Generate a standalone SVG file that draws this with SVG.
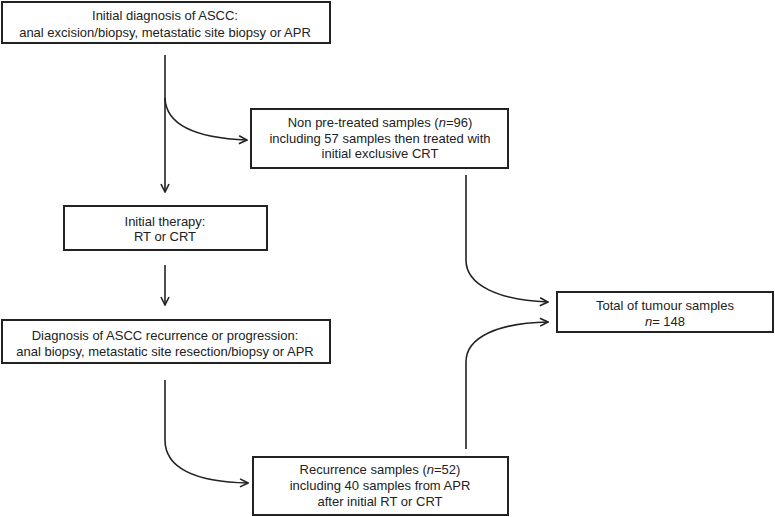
<svg xmlns="http://www.w3.org/2000/svg" width="775" height="517" viewBox="0 0 775 517">
<style>
.box{fill:#fff;stroke:#222;stroke-width:2}
.t{font-family:"Liberation Sans",Arial,sans-serif;font-size:13px;fill:#222;text-anchor:middle}
.c{fill:none;stroke:#222;stroke-width:1.6}
.i{font-style:italic}
</style>
<defs>
<marker id="arr" viewBox="0 0 10 10" refX="9" refY="5" markerWidth="10" markerHeight="10" markerUnits="userSpaceOnUse" orient="auto">
<path d="M1,1 L9,5 L1,9" fill="none" stroke="#222" stroke-width="1.6"/>
</marker>
</defs>
<rect width="775" height="517" fill="#fff"/>
<g id="connectors">
<path class="c" d="M165,55 L165,192" marker-end="url(#arr)"/>
<path class="c" d="M165,98 C166,125 195,138 247,140" marker-end="url(#arr)"/>
<path class="c" d="M165,265 L165,305" marker-end="url(#arr)"/>
<path class="c" d="M165,380 L165,440 C165,468 195,482 248,483" marker-end="url(#arr)"/>
<path class="c" d="M466,175 L466,260 C466,285 498,300 548,302" marker-end="url(#arr)"/>
<path class="c" d="M466,449 L466,362 C466,337 498,323 548,322" marker-end="url(#arr)"/>
</g>
<g id="n1">
<rect class="box" x="2" y="2" width="328" height="41"/>
<text class="t" x="165" y="20">Initial diagnosis of ASCC:</text>
<text class="t" x="165" y="37">anal excision/biopsy, metastatic site biopsy or APR</text>
</g>
<g id="n2">
<rect class="box" x="251" y="109" width="257" height="59"/>
<text class="t" x="380" y="127">Non pre-treated samples (<tspan class="i">n</tspan>=96)</text>
<text class="t" x="380" y="143">including 57 samples then treated with</text>
<text class="t" x="380" y="158">initial exclusive CRT</text>
</g>
<g id="n3">
<rect class="box" x="64" y="206" width="203" height="44"/>
<text class="t" x="165" y="226">Initial therapy:</text>
<text class="t" x="165" y="241">RT or CRT</text>
</g>
<g id="n4">
<rect class="box" x="2" y="320" width="328" height="43"/>
<text class="t" x="165" y="340">Diagnosis of ASCC recurrence or progression:</text>
<text class="t" x="165" y="356">anal biopsy, metastatic site resection/biopsy or APR</text>
</g>
<g id="n5">
<rect class="box" x="253" y="457" width="255" height="58"/>
<text class="t" x="380" y="474">Recurrence samples (<tspan class="i">n</tspan>=52)</text>
<text class="t" x="380" y="490">including 40 samples from APR</text>
<text class="t" x="380" y="506">after initial RT or CRT</text>
</g>
<g id="n6">
<rect class="box" x="557" y="292" width="216" height="40"/>
<text class="t" x="665" y="310">Total of tumour samples</text>
<text class="t" x="665" y="326"><tspan class="i">n</tspan>= 148</text>
</g>
</svg>
